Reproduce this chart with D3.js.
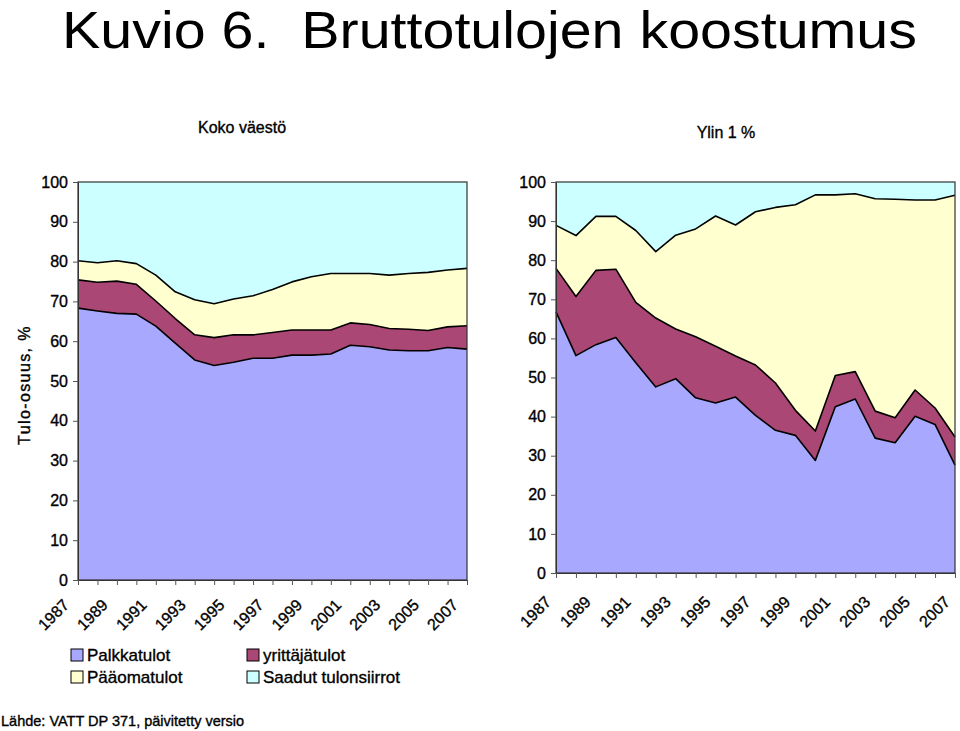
<!DOCTYPE html>
<html><head><meta charset="utf-8">
<script src="https://cdn.jsdelivr.net/npm/d3@7"></script>
<style>
body{margin:0;background:#fff}
text{font-family:"Liberation Sans",Arial,Helvetica,sans-serif;fill:#000}
text.s{stroke:#000;stroke-width:0.35px}
</style>
</head><body>
<svg id="c" width="960" height="731"></svg>
<script>
const years = [1987,1988,1989,1990,1991,1992,1993,1994,1995,1996,1997,1998,1999,2000,2001,2002,2003,2004,2005,2006,2007];
const yearLabels = [1987,1989,1991,1993,1995,1997,1999,2001,2003,2005,2007];
const yTicks = [0,10,20,30,40,50,60,70,80,90,100];
const seriesKeys = ["palkka","yritt","paaoma","siirrot"];
const seriesNames = ["Palkkatulot","yrittäjätulot","Pääomatulot","Saadut tulonsiirrot"];
const seriesColors = ["#a8a8ff","#aa4774","#ffffd0","#ccffff"];

// Koko väestö (share of gross income, %)
const kokoPalkka  = [68.3,67.6,67.0,66.8,63.8,59.5,55.3,53.9,54.7,55.7,55.7,56.5,56.5,56.8,59.0,58.6,57.8,57.6,57.6,58.4,58.0];
const kokoYritt   = [7.1,7.2,8.1,7.5,6.3,6.2,6.3,7.0,6.9,5.9,6.5,6.3,6.3,6.0,5.6,5.6,5.4,5.4,5.1,5.2,5.9];
const kokoPaaoma  = [4.8,4.9,5.1,5.2,6.5,6.7,8.8,8.5,9.0,9.8,10.8,12.1,13.4,14.2,12.4,12.8,13.4,14.0,14.6,14.3,14.4];
const kokoSiirrot = [19.8,20.3,19.8,20.5,23.4,27.6,29.6,30.6,29.4,28.6,27.0,25.1,23.8,23.0,23.0,23.0,23.4,23.0,22.7,22.1,21.7];

// Ylin 1 %
const ylinPalkka  = [66.8,55.6,58.4,60.2,53.8,47.6,49.7,44.8,43.5,45.0,40.3,36.5,35.2,28.8,42.5,44.5,34.5,33.3,40.1,38.0,27.6];
const ylinYritt   = [11.1,15.1,19.0,17.5,15.4,17.6,12.7,15.6,14.5,10.5,12.9,12.1,6.4,7.5,8.0,7.0,6.9,6.4,6.7,4.2,7.2];
const ylinPaaoma  = [11.0,15.6,13.8,13.5,18.4,17.0,24.0,27.6,33.3,33.5,39.2,44.9,52.6,60.4,46.2,45.5,54.3,55.9,48.6,53.2,61.8];
const ylinSiirrot = [11.1,13.7,8.8,8.8,12.4,17.8,13.6,12.0,8.7,11.0,7.6,6.5,5.8,3.3,3.3,3.0,4.3,4.4,4.6,4.6,3.4];

const svg = d3.select("#c");

// Title
svg.append("text").attr("x",62).attr("y",47.5).attr("font-size",52)
  .attr("textLength",855).attr("lengthAdjust","spacingAndGlyphs")
  .text("Kuvio 6.\u00a0 Bruttotulojen koostumus");

function rows(a,b,c,d){
  return years.map((yr,i)=>({year:yr,palkka:a[i],yritt:b[i],paaoma:c[i],siirrot:d[i]}));
}

function panel(data, box, subtitle, subPos, labelOffset){
  const g = svg.append("g");
  const x = d3.scaleLinear().domain([years[0], years[years.length-1]]).range([box.x0, box.x1]);
  const y = d3.scaleLinear().domain([0,100]).range([box.y1, box.y0]);
  const stacked = d3.stack().keys(seriesKeys)(data);
  const area = d3.area().x(d=>x(d.data.year)).y0(d=>y(d[0])).y1(d=>y(d[1]));
  g.selectAll("path.a").data(stacked).join("path").attr("class","a")
    .attr("d",area).attr("fill",(d,i)=>seriesColors[i]);
  const line = d3.line().x(d=>x(d.data.year)).y(d=>y(d[1]));
  g.selectAll("path.l").data(stacked.slice(0,3)).join("path").attr("class","l")
    .attr("d",line).attr("fill","none").attr("stroke","#000").attr("stroke-width",1.6).attr("stroke-linejoin","round");
  g.append("rect").attr("x",box.x0).attr("y",box.y0).attr("width",box.x1-box.x0).attr("height",box.y1-box.y0)
    .attr("fill","none").attr("stroke","#333").attr("stroke-width",1.2);
  const ya = g.append("g").attr("transform",`translate(${box.x0},0)`)
    .call(d3.axisLeft(y).tickValues(yTicks).tickSize(5).tickSizeOuter(0).tickPadding(5));
  ya.select(".domain").attr("stroke","#333");
  ya.selectAll("line").attr("stroke","#555");
  ya.selectAll("text").attr("class","s").attr("font-size",16).attr("font-family",'"Liberation Sans",Arial,sans-serif').attr("fill","#000");
  const xa = g.append("g").attr("transform",`translate(0,${box.y1})`)
    .call(d3.axisBottom(x).tickValues(years).tickSize(5).tickSizeOuter(0).tickFormat(""));
  xa.select(".domain").attr("stroke","#333");
  xa.selectAll("line").attr("stroke","#555");
  g.selectAll("text.xl").data(yearLabels).join("text").attr("class","xl s")
    .attr("transform",d=>`translate(${x(d)+labelOffset.dx},${box.y1+labelOffset.dy}) rotate(-45)`)
    .attr("text-anchor","end").attr("font-size",16).text(d=>d);
  svg.append("text").attr("class","s").attr("x",subPos[0]).attr("y",subPos[1]).attr("text-anchor","middle")
    .attr("font-size",16).text(subtitle);
}

panel(rows(kokoPalkka,kokoYritt,kokoPaaoma,kokoSiirrot), {x0:78,x1:467,y0:182,y1:580}, "Koko väestö", [242,133], {dx:-8,dy:26});
panel(rows(ylinPalkka,ylinYritt,ylinPaaoma,ylinSiirrot), {x0:556,x1:955,y0:182,y1:573}, "Ylin 1 %", [726,138], {dx:-4,dy:30});

svg.append("text").attr("class","s").attr("transform","translate(30,385) rotate(-90)").attr("text-anchor","middle")
  .attr("font-size",16).attr("letter-spacing",1.4).text("Tulo-osuus, %");

const legendPos = [[71,649],[247,649],[71,671],[247,671]];
seriesNames.forEach((name,i)=>{
  const [lx,ly] = legendPos[i];
  svg.append("rect").attr("x",lx).attr("y",ly).attr("width",12).attr("height",12)
    .attr("fill",seriesColors[i]).attr("stroke","#000").attr("stroke-width",1);
  svg.append("text").attr("class","s").attr("x",lx+16).attr("y",ly+12).attr("font-size",17).text(name);
});

svg.append("text").attr("class","s").attr("x",1).attr("y",726).attr("font-size",14.5).text("Lähde: VATT DP 371, päivitetty versio");
</script>
</body></html>
